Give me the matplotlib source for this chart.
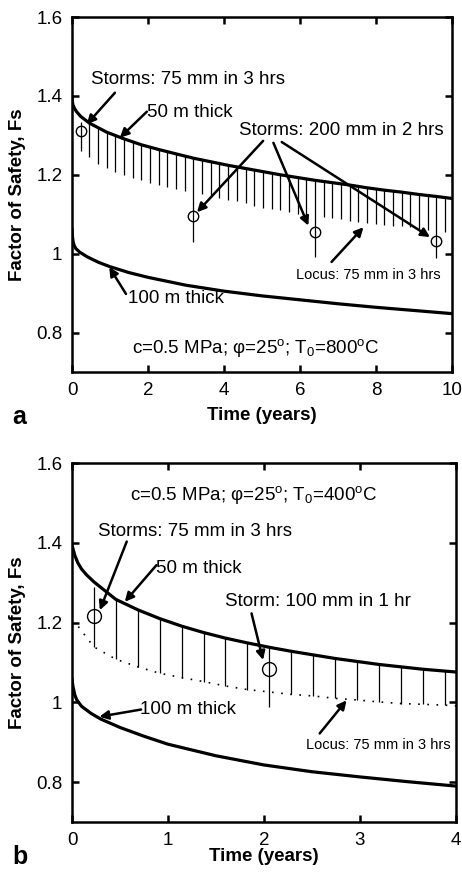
import matplotlib.pyplot as plt

plt.rcParams['font.family'] = ['Liberation Sans', 'DejaVu Sans']
plt.rcParams['mathtext.fontset'] = 'custom'
plt.rcParams['mathtext.rm'] = 'Liberation Sans'
plt.rcParams['mathtext.it'] = 'Liberation Sans:italic'
plt.rcParams['mathtext.bf'] = 'Liberation Sans:bold'

# ---------------- panel a : T0 = 800 C ----------------
a_t50 = [0, 0.02, 0.06, 0.12, 0.228, 0.457, 0.913, 1.37, 1.826, 2.283, 2.74, 3.196,
         3.653, 4.109, 4.566, 5.023, 5.479, 5.936, 6.392, 6.849, 7.306, 7.762, 8.219,
         8.675, 9.132, 9.589, 10]
a_fs50 = [1.395, 1.379, 1.369, 1.360, 1.348, 1.331, 1.308, 1.291, 1.276, 1.264, 1.253,
          1.242, 1.233, 1.224, 1.216, 1.208, 1.200, 1.193, 1.186, 1.180, 1.174, 1.167,
          1.161, 1.156, 1.150, 1.145, 1.140]

a_t100 = [0, 0.01, 0.03, 0.06, 0.1, 0.2, 0.4, 0.7, 1, 1.5, 2, 3, 4, 5, 6, 7, 8, 9, 10]
a_fs100 = [1.062, 1.045, 1.030, 1.020, 1.013, 1.004, 0.992, 0.978, 0.967, 0.952, 0.940,
           0.920, 0.905, 0.893, 0.883, 0.873, 0.864, 0.856, 0.848]

# hachure: Fs drop for 75 mm in 3 hrs storms
a_hatch_t = [0.457, 0.685, 0.913, 1.142, 1.370, 1.598, 1.826, 2.055, 2.283, 2.511, 2.740,
             2.968, 3.425, 3.653, 3.881, 4.109, 4.338, 4.566, 4.794, 5.023, 5.251, 5.479,
             5.708, 5.936, 6.164, 6.621, 6.849, 7.077, 7.306, 7.534, 7.762, 7.991, 8.219,
             8.447, 8.675, 8.904, 9.132, 9.360, 9.817]
a_hatch_top = [1.331, 1.319, 1.308, 1.299, 1.291, 1.283, 1.276, 1.270, 1.264, 1.258, 1.253,
               1.247, 1.238, 1.233, 1.228, 1.224, 1.220, 1.216, 1.212, 1.208, 1.204, 1.200,
               1.197, 1.193, 1.190, 1.183, 1.180, 1.177, 1.174, 1.170, 1.167, 1.164, 1.161,
               1.159, 1.156, 1.153, 1.150, 1.147, 1.142]
a_hatch_low = [1.244, 1.227, 1.216, 1.207, 1.199, 1.191, 1.186, 1.180, 1.174, 1.168, 1.164,
               1.160, 1.151, 1.145, 1.142, 1.137, 1.133, 1.128, 1.122, 1.117, 1.114, 1.110,
               1.105, 1.101, 1.096, 1.092, 1.090, 1.088, 1.084, 1.081, 1.079, 1.075, 1.073,
               1.071, 1.069, 1.067, 1.063, 1.061, 1.054]

a_storm_t = [0.228, 3.196, 6.392, 9.589]
a_storm_fs = [1.311, 1.095, 1.056, 1.033]
a_storm_top = [1.335, 1.242, 1.186, 1.145]
a_storm_low = [1.260, 1.029, 0.991, 0.989]

# ---------------- panel b : T0 = 400 C ----------------
b_t50 = [0, 0.01, 0.03, 0.06, 0.1, 0.15, 0.228, 0.457, 0.685, 0.913, 1.142, 1.37, 1.598,
         1.826, 2.055, 2.283, 2.74, 3.196, 3.653, 4.0]
b_fs50 = [1.395, 1.385, 1.368, 1.350, 1.334, 1.320, 1.302, 1.258, 1.232, 1.210, 1.191,
          1.175, 1.161, 1.149, 1.138, 1.128, 1.110, 1.095, 1.083, 1.076]

b_t100 = [0, 0.01, 0.03, 0.05, 0.1, 0.2, 0.3, 0.5, 0.75, 1, 1.5, 2, 2.5, 3, 3.5, 4]
b_fs100 = [1.058, 1.040, 1.018, 1.006, 0.990, 0.972, 0.958, 0.937, 0.915, 0.895, 0.866,
           0.843, 0.826, 0.813, 0.801, 0.790]

b_locus_t = [0.066, 0.135, 0.228, 0.457, 0.685, 0.913, 1.142, 1.37, 1.598, 1.826, 2.055,
             2.283, 2.511, 2.74, 2.968, 3.196, 3.425, 3.653, 3.881, 4.0]
b_locus_fs = [1.190, 1.168, 1.139, 1.108, 1.089, 1.073, 1.062, 1.052, 1.041, 1.032, 1.026,
              1.020, 1.016, 1.010, 1.006, 1.001, 0.997, 0.995, 0.993, 0.991]

b_hatch_t = [0.457, 0.685, 0.913, 1.142, 1.370, 1.598, 1.826, 2.283, 2.511, 2.740, 2.968,
             3.196, 3.425, 3.653, 3.881]
b_hatch_top = [1.258, 1.232, 1.210, 1.191, 1.175, 1.161, 1.149, 1.128, 1.119, 1.110, 1.102,
               1.095, 1.089, 1.083, 1.079]
b_hatch_low = [1.108, 1.089, 1.073, 1.062, 1.052, 1.041, 1.032, 1.020, 1.016, 1.010, 1.006,
               1.001, 0.997, 0.995, 0.993]

b_storm_t = [0.228, 2.055]
b_storm_fs = [1.216, 1.083]
b_storm_top = [1.290, 1.138]
b_storm_low = [1.139, 0.989]

FS = 13.5
arrow = dict(arrowstyle='-|>', color='black', lw=1.8, mutation_scale=13,
             shrinkA=0, shrinkB=0)

fig = plt.figure(figsize=(4.62, 8.81), dpi=100)
ax_a = fig.add_axes([72 / 462, 1 - 372 / 881, 380 / 462, 355 / 881])
ax_b = fig.add_axes([72 / 462, 1 - 822 / 881, 384 / 462, 359 / 881])


def style_axes(ax, xmax, xticks, label_y):
    ax.set_xlim(0, xmax)
    ax.set_ylim(0.7, 1.6)
    ax.set_xticks(xticks)
    ax.set_xticklabels([str(v) for v in xticks])
    ax.set_yticks([0.8, 1.0, 1.2, 1.4, 1.6])
    ax.set_yticklabels(['0.8', '1', '1.2', '1.4', '1.6'])
    ax.tick_params(direction='in', length=5, width=1.8, top=True, right=True,
                   labelsize=FS, pad=7)
    for s in ax.spines.values():
        s.set_linewidth(1.8)
    ax.set_xlabel('Time (years)', fontsize=FS, fontweight='bold')
    ax.xaxis.set_label_coords(0.5, label_y)
    ax.set_ylabel('Factor of Safety, Fs', fontsize=FS, fontweight='bold')
    ax.yaxis.set_label_coords(-0.12, 0.5)


# ---- panel a ----
ax = ax_a
ax.plot(a_t50, a_fs50, color='black', lw=2.3)
ax.plot(a_t100, a_fs100, color='black', lw=2.3)
ax.vlines(a_hatch_t, a_hatch_low, a_hatch_top, color='black', lw=0.9)
ax.vlines(a_storm_t, a_storm_low, a_storm_top, color='black', lw=0.9)
ax.plot(a_storm_t, a_storm_fs, 'o', mfc='none', mec='black', ms=7.5, mew=1.0)
style_axes(ax, 10, [0, 2, 4, 6, 8, 10], -0.1)

ax.text(0.5, 1.441, 'Storms: 75 mm in 3 hrs', fontsize=FS, va='center', ha='left')
ax.annotate('', xy=(0.39, 1.328), xytext=(1.13, 1.408), arrowprops=arrow)
ax.text(1.97, 1.358, '50 m thick', fontsize=FS, va='center', ha='left')
ax.annotate('', xy=(1.26, 1.294), xytext=(1.97, 1.36), arrowprops=arrow)
ax.text(7.08, 1.311, 'Storms: 200 mm in 2 hrs', fontsize=FS, va='center', ha='center')
ax.annotate('', xy=(3.29, 1.105), xytext=(5.03, 1.286), arrowprops=arrow)
ax.annotate('', xy=(6.22, 1.071), xytext=(5.30, 1.281), arrowprops=arrow)
ax.annotate('', xy=(9.42, 1.042), xytext=(5.52, 1.283), arrowprops=arrow)
ax.text(7.8, 0.945, 'Locus: 75 mm in 3 hrs', fontsize=10.5, va='center', ha='center')
ax.annotate('', xy=(7.67, 1.067), xytext=(6.83, 0.979), arrowprops=arrow)
ax.text(1.48, 0.886, '100 m thick', fontsize=FS, va='center', ha='left')
ax.annotate('', xy=(0.98, 0.966), xytext=(1.42, 0.898), arrowprops=arrow)
ax.text(4.84, 0.76, 'c=0.5 MPa; φ=25$^{\\rm o}$; T$_{\\rm 0}$=800$^{\\rm o}$C',
        fontsize=FS, va='center', ha='center')

# ---- panel b ----
ax = ax_b
ax.plot(b_t50, b_fs50, color='black', lw=2.3)
ax.plot(b_t100, b_fs100, color='black', lw=2.3)
ax.plot(b_locus_t, b_locus_fs, color='black', lw=1.2, ls=(0, (1, 4.5)))
ax.vlines(b_hatch_t, b_hatch_low, b_hatch_top, color='black', lw=0.9)
ax.vlines(b_storm_t, b_storm_low, b_storm_top, color='black', lw=0.9)
ax.plot(b_storm_t, b_storm_fs, 'o', mfc='none', mec='black', ms=10, mew=1.0)
style_axes(ax, 4, [0, 1, 2, 3, 4], -0.072)

ax.text(1.89, 1.52, 'c=0.5 MPa; φ=25$^{\\rm o}$; T$_{\\rm 0}$=400$^{\\rm o}$C',
        fontsize=FS, va='center', ha='center')
ax.text(0.274, 1.428, 'Storms: 75 mm in 3 hrs', fontsize=FS, va='center', ha='left')
ax.annotate('', xy=(0.29, 1.231), xytext=(0.57, 1.403), arrowprops=arrow)
ax.text(0.88, 1.336, '50 m thick', fontsize=FS, va='center', ha='left')
ax.annotate('', xy=(0.55, 1.252), xytext=(0.88, 1.344), arrowprops=arrow)
ax.text(2.56, 1.252, 'Storm: 100 mm in 1 hr', fontsize=FS, va='center', ha='center')
ax.annotate('', xy=(1.99, 1.106), xytext=(1.87, 1.223), arrowprops=arrow)
ax.text(0.71, 0.981, '100 m thick', fontsize=FS, va='center', ha='left')
ax.annotate('', xy=(0.285, 0.964), xytext=(0.72, 0.982), arrowprops=arrow)
ax.text(3.19, 0.894, 'Locus: 75 mm in 3 hrs', fontsize=10.5, va='center', ha='center')
ax.annotate('', xy=(2.86, 1.005), xytext=(2.58, 0.922), arrowprops=arrow)

fig.text(12 / 462, 1 - 417 / 881, 'a', fontsize=18, fontweight='bold', va='center', ha='left')
fig.text(12 / 462, 1 - 857 / 881, 'b', fontsize=18, fontweight='bold', va='center', ha='left')

fig.savefig('out.png', dpi=100)
